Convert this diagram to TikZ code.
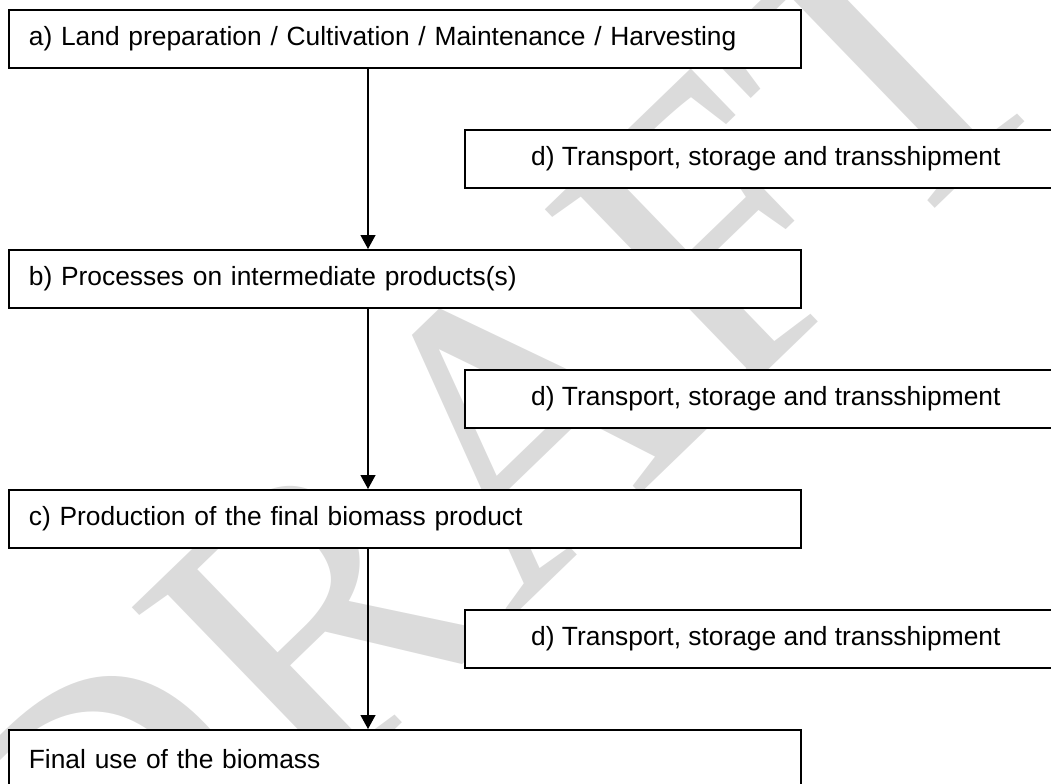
\documentclass[tikz,border=0pt]{standalone}
\usepackage{fontspec}
\setmainfont{Liberation Sans}
\newfontfamily\draftfont{Liberation Serif}
\usetikzlibrary{arrows.meta, positioning}

\tikzset{
  stagebox/.style={draw=black, line width=1pt, fill=white, anchor=north west,
    minimum height=1.16cm, text width=15.04cm, inner xsep=0.4cm, inner ysep=0pt,
    align=left, font=\fontsize{15}{18}\selectfont},
  transbox/.style={draw=black, line width=1pt, fill=white, anchor=north west,
    minimum width=12.04cm, minimum height=1.16cm, inner ysep=0pt,
    align=center, font=\fontsize{15}{18}\selectfont},
  flow/.style={-{Triangle[width=0.3cm, length=0.28cm]}, line width=0.7pt},
  draftmark/.style={text=black!14, rotate=44,
    font=\draftfont\fontsize{235}{235}\selectfont}
}

\begin{document}
\begin{tikzpicture}[x=0.02cm, y=-0.02cm]
  \useasboundingbox (0, 0) rectangle (1051, 784);
  \clip (0, 0) rectangle (1051, 784);

  % Watermark
  \node[draftmark] (draft) at (490, 450) {DRAFT};

  % Main stages
  \node[stagebox] (landprep) at (8, 9)   {a) Land preparation / Cultivation / Maintenance / Harvesting};
  \node[stagebox] (interm)   at (8, 249) {b) Processes on intermediate products(s)};
  \node[stagebox] (finalprod) at (8, 489) {c) Production of the final biomass product};
  \node[stagebox] (finaluse) at (8, 729) {Final use of the biomass};

  % Transport steps
  \node[transbox] (trans1) at (464, 129) {d) Transport, storage and transshipment};
  \node[transbox] (trans2) at (464, 369) {d) Transport, storage and transshipment};
  \node[transbox] (trans3) at (464, 609) {d) Transport, storage and transshipment};

  % Flow
  \coordinate (spine) at (368, 0);
  \draw[flow] (landprep.south -| spine) -- (interm.north -| spine);
  \draw[flow] (interm.south -| spine) -- (finalprod.north -| spine);
  \draw[flow] (finalprod.south -| spine) -- (finaluse.north -| spine);
\end{tikzpicture}
\end{document}
